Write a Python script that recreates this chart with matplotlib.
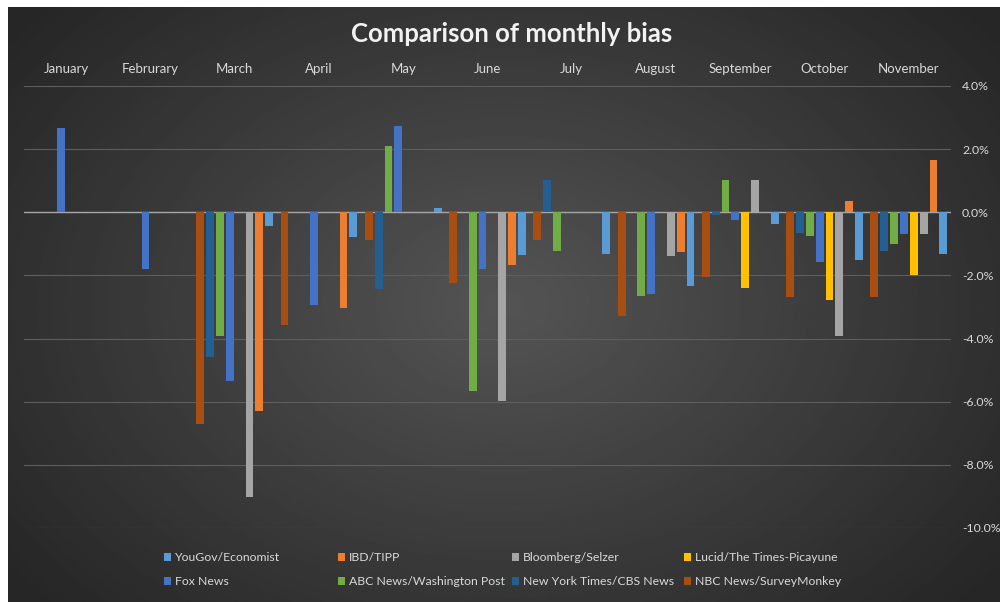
import numpy as np
import matplotlib
matplotlib.use("Agg")
import matplotlib.pyplot as plt

plt.rcParams['font.family'] = ['Lato', 'DejaVu Sans']

months = ["January", "Februrary", "March", "April", "May", "June", "July",
          "August", "September", "October", "November"]

nan = np.nan
# bias in percent, one value per month (nan = no poll)
yougov    = [nan, nan, -0.45, -0.79, 0.13, -1.36, -1.31, -2.33, -0.36, -1.50, -1.31]
ibd       = [nan, nan, -6.30, -3.03, nan, -1.67, nan, -1.27, nan, 0.37, 1.66]
bloomberg = [nan, nan, -9.01, nan, nan, -5.97, nan, -1.38, 1.03, -3.93, -0.68]
lucid     = [nan, nan, nan, nan, nan, nan, nan, nan, -2.40, -2.77, -1.98]
foxnews   = [2.66, -1.80, -5.35, -2.95, 2.74, -1.80, nan, -2.59, -0.24, -1.59, -0.68]
abc       = [nan, nan, -3.93, nan, 2.10, -5.67, -1.22, -2.66, 1.03, -0.74, -1.00]
nyt       = [nan, nan, -4.58, nan, -2.42, nan, 1.03, nan, -0.08, -0.66, -1.22]
nbc       = [nan, nan, -6.72, -3.56, -0.89, -2.24, -0.87, -3.30, -2.06, -2.68, -2.68]

series = [yougov, ibd, bloomberg, lucid, foxnews, abc, nyt, nbc]
names = ["YouGov/Economist", "IBD/TIPP", "Bloomberg/Selzer", "Lucid/The Times-Picayune",
         "Fox News", "ABC News/Washington Post", "New York Times/CBS News", "NBC News/SurveyMonkey"]
colors = ["#5B9BD5", "#ED7D31", "#A5A5A5", "#FFC000",
          "#4472C4", "#70AD47", "#255E91", "#A84E12"]

fig = plt.figure(figsize=(10, 6.02), dpi=100, facecolor="white")

# dark gradient background
bg = fig.add_axes([0.008, 0, 0.992, 1 - 7 / 602])
bg.set_axis_off()
yy, xx = np.mgrid[-1:1:300j, -1:1:500j]
r = np.sqrt((xx / 1.05) ** 2 + (yy / 1.25) ** 2)
img = 0.33 - 0.15 * np.clip(r, 0, 1.2)
bg.imshow(img, cmap="gray", vmin=0, vmax=1, aspect="auto", extent=[0, 1, 0, 1])
bg.set_xlim(0, 1)
bg.set_ylim(0, 1)

ax = fig.add_axes([0.024, 1 - 528 / 602, 0.927, (528 - 86) / 602])
ax.patch.set_alpha(0)

x = np.arange(len(months))
slot = 0.1168
handles = []
for i, (vals, name, c) in enumerate(zip(series, names, colors)):
    k = 7 - i
    h = ax.bar(x + (k - 3.5) * slot, vals, width=0.093, color=c, label=name, zorder=3)
    handles.append(h)

ax.set_xlim(-0.5, 10.5)
ax.set_ylim(-10, 4)
ax.set_yticks(np.arange(-10, 5, 2))
ax.set_yticklabels(["%.1f%%" % v for v in np.arange(-10, 5, 2)])
ax.yaxis.tick_right()
ax.xaxis.tick_top()
ax.set_xticks(x)
ax.set_xticklabels(months)
ax.tick_params(axis="y", length=0, pad=8, labelsize=8.8, colors="#d9d9d9")
ax.tick_params(axis="x", length=0, pad=7.7, labelsize=9.5, colors="#d9d9d9")
ax.grid(axis="y", color="#5e5e5e", linewidth=0.8, zorder=0)
ax.axhline(0, color="#a6a6a6", linewidth=1.0, zorder=2)
for s in ax.spines.values():
    s.set_visible(False)

fig.text(0.512, 1 - 34 / 602, "Comparison of monthly bias", ha="center", va="center",
         fontsize=18.5, fontweight="bold", color="#f2f2f2")

# legend: four columns of two rows, equal column pitch
col_x = [0.164, 0.338, 0.512, 0.684]
for c, cx in enumerate(col_x):
    leg = fig.legend([handles[c], handles[c + 4]], [names[c], names[c + 4]],
                     loc="upper left", bbox_to_anchor=(cx, 1 - 552 / 602), ncol=1,
                     frameon=False, fontsize=8.8, labelcolor="#d9d9d9",
                     handlelength=0.6, handleheight=0.6, handletextpad=0.3,
                     labelspacing=1.1, borderpad=0, borderaxespad=0)

fig.savefig("out.png", dpi=100, facecolor="white")
